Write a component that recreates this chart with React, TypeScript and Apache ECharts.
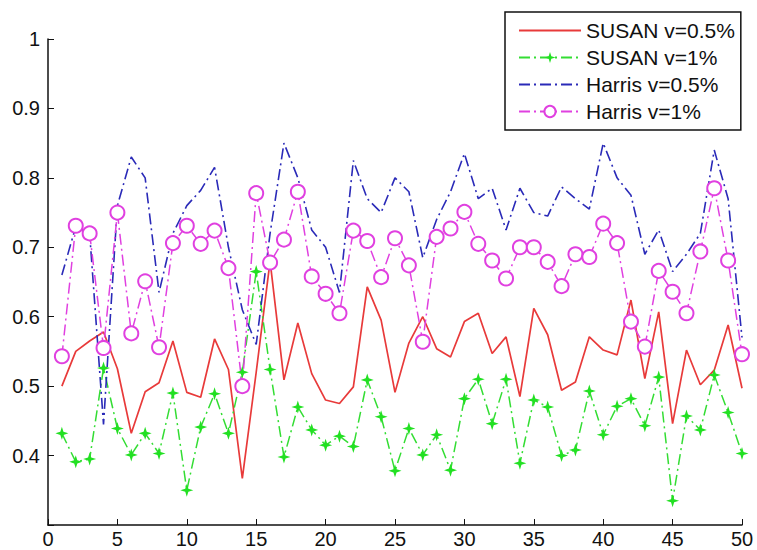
import React, { useEffect, useRef } from "react";
import * as echarts from "echarts";

const trials = [1,2,3,4,5,6,7,8,9,10,11,12,13,14,15,16,17,18,19,20,21,22,23,24,25,26,27,28,29,30,31,32,33,34,35,36,37,38,39,40,41,42,43,44,45,46,47,48,49,50];

const susan05 = [0.50,0.55,0.565,0.578,0.525,0.432,0.492,0.505,0.565,0.491,
  0.484,0.568,0.524,0.367,0.52,0.68,0.509,0.591,0.518,0.48,
  0.475,0.499,0.643,0.595,0.491,0.562,0.60,0.554,0.542,0.593,
  0.605,0.547,0.571,0.485,0.612,0.574,0.494,0.506,0.571,0.552,
  0.545,0.624,0.511,0.607,0.446,0.552,0.502,0.523,0.588,0.497];

const susan1 = [0.432,0.391,0.395,0.526,0.439,0.401,0.432,0.403,0.49,0.35,
  0.441,0.489,0.432,0.52,0.665,0.524,0.398,0.47,0.437,0.415,
  0.428,0.413,0.509,0.456,0.378,0.439,0.401,0.43,0.379,0.482,
  0.51,0.446,0.51,0.389,0.48,0.47,0.40,0.408,0.493,0.43,
  0.471,0.482,0.443,0.513,0.335,0.457,0.437,0.516,0.462,0.403];

const harris05 = [0.66,0.73,0.72,0.445,0.76,0.83,0.80,0.635,0.72,0.76,
  0.782,0.815,0.70,0.61,0.56,0.72,0.85,0.80,0.725,0.70,
  0.635,0.825,0.77,0.75,0.80,0.78,0.685,0.74,0.78,0.835,
  0.77,0.785,0.725,0.785,0.75,0.745,0.787,0.77,0.755,0.85,
  0.80,0.775,0.69,0.725,0.665,0.69,0.72,0.84,0.77,0.57];

const harris1 = [0.543,0.731,0.72,0.555,0.75,0.576,0.651,0.556,0.706,0.731,
  0.705,0.724,0.67,0.50,0.778,0.678,0.711,0.78,0.658,0.633,
  0.605,0.724,0.709,0.657,0.713,0.674,0.564,0.715,0.727,0.751,
  0.705,0.681,0.655,0.70,0.70,0.679,0.644,0.69,0.686,0.734,
  0.706,0.593,0.557,0.666,0.636,0.605,0.694,0.785,0.681,0.546];

const seriesNames = ["SUSAN v=0.5%", "SUSAN v=1%", "Harris v=0.5%", "Harris v=1%"];

const pairs = (vals: number[]) => trials.map((t, i) => [t, vals[i]]);

const FONT = "'Liberation Sans', Arial, sans-serif";
const STAR = "path://M0,-10L2.4,-2.4L10,0L2.4,2.4L0,10L-2.4,2.4L-10,0L-2.4,-2.4Z";
const DASHDOT = [11, 4, 2, 4];

export default function App() {
  const ref = useRef<HTMLDivElement>(null);
  useEffect(() => {
    if (!ref.current) return;
    const chart = echarts.init(ref.current, undefined, { renderer: "svg" });
    chart.setOption({
      animation: false,
      backgroundColor: "#ffffff",
      grid: { left: 48, right: 15, top: 39, bottom: 25, containLabel: false },
      legend: {
        orient: "vertical",
        left: 505,
        top: 12,
        padding: [8, 6, 8, 13],
        itemGap: 6,
        itemWidth: 62,
        itemHeight: 14,
        borderColor: "#111",
        borderWidth: 1.5,
        backgroundColor: "#fff",
        textStyle: { fontFamily: FONT, fontSize: 21, color: "#111", lineHeight: 20 },
        data: [
          { name: seriesNames[0], itemStyle: { opacity: 0 } },
          { name: seriesNames[1] },
          { name: seriesNames[2], itemStyle: { opacity: 0 } },
          { name: seriesNames[3] },
        ],
      },
      xAxis: {
        type: "value",
        min: 0,
        max: 50,
        interval: 5,
        axisLine: { show: true, lineStyle: { color: "#111", width: 1.5 } },
        axisTick: { show: true, inside: true, length: 6, lineStyle: { color: "#111" } },
        axisLabel: { fontFamily: FONT, fontSize: 20, color: "#111", margin: 4 },
        splitLine: { show: false },
      },
      yAxis: {
        type: "value",
        min: 0.3,
        max: 1,
        interval: 0.1,
        axisLine: { show: true, lineStyle: { color: "#111", width: 1.5 } },
        axisTick: { show: true, inside: true, length: 6, lineStyle: { color: "#111" } },
        axisLabel: {
          fontFamily: FONT,
          fontSize: 20,
          color: "#111",
          margin: 8,
          formatter: (v: number) => (v < 0.35 ? "" : String(Math.round(v * 10) / 10)),
        },
        splitLine: { show: false },
      },
      series: [
        {
          name: seriesNames[0],
          type: "line",
          data: pairs(susan05),
          symbol: "none",
          lineStyle: { color: "#e83a3a", width: 1.7, type: "solid" },
          itemStyle: { color: "#e83a3a" },
        },
        {
          name: seriesNames[1],
          type: "line",
          data: pairs(susan1),
          symbol: STAR,
          symbolSize: 13,
          lineStyle: { color: "#33dd33", width: 1.5, type: DASHDOT },
          itemStyle: { color: "#22e022" },
        },
        {
          name: seriesNames[2],
          type: "line",
          data: pairs(harris05),
          symbol: "none",
          lineStyle: { color: "#2a2ab8", width: 1.6, type: DASHDOT },
          itemStyle: { color: "#2a2ab8" },
        },
        {
          name: seriesNames[3],
          type: "line",
          data: pairs(harris1),
          symbol: "emptyCircle",
          symbolSize: 14,
          lineStyle: { color: "#e040e0", width: 1.5, type: DASHDOT },
          itemStyle: { color: "#e040e0", borderWidth: 1.5 },
        },
      ],
    });
    return () => chart.dispose();
  }, []);
  return (
    <div
      ref={ref}
      style={{ position: "fixed", left: 0, top: 0, width: 757, height: 550, background: "#fff" }}
    />
  );
}
